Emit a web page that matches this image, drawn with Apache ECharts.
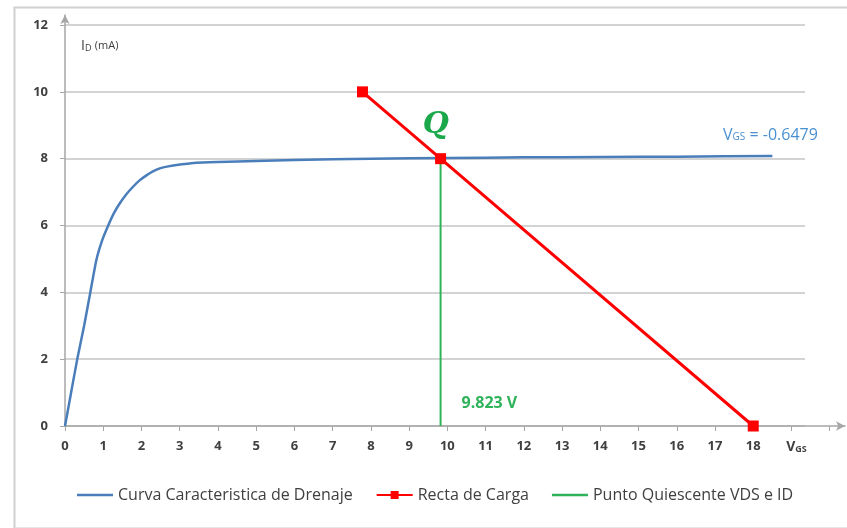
<!DOCTYPE html>
<html>
<head>
<meta charset="utf-8">
<script src="https://cdn.jsdelivr.net/npm/echarts@6/dist/echarts.min.js"></script>
<style>html,body{margin:0;padding:0;background:#fff}#c{width:847px;height:528px}</style>
</head>
<body>
<div id="c"></div>
<script>
// ---- data ----
const curveX = [0, 0.16, 0.32, 0.5, 0.67, 0.82, 0.97, 1.13, 1.28, 1.43, 1.6, 1.78, 1.95, 2.13, 2.3, 2.48, 2.7, 2.92, 3.2, 3.44, 4.0, 5.0, 6.0, 8.0, 10.0, 12.0, 14.0, 16.0, 18.5];
const curveY = [0, 1.0, 2.0, 3.0, 4.05, 4.97, 5.55, 6.0, 6.37, 6.66, 6.93, 7.16, 7.35, 7.5, 7.62, 7.71, 7.77, 7.81, 7.85, 7.88, 7.9, 7.93, 7.96, 8.0, 8.02, 8.04, 8.05, 8.06, 8.08];
const loadX = [7.78, 9.823, 18];
const loadY = [10, 8, 0];
const qX = [9.823, 9.823];
const qY = [0, 8];
const xTickLabels = ['0','1','2','3','4','5','6','7','8','9','10','11','12','13','14','15','16','17','18','VGS',''];
const yTickLabels = ['0','2','4','6','8','10','12'];
const seriesNames = ['Curva Caracteristica de Drenaje', 'Recta de Carga', 'Punto Quiescente VDS e ID'];
const vgsText = 'VGS = -0.6479';
const qText = 'Q';
const vdsText = '9.823 V';

const zip = (xs, ys) => xs.map((x, i) => [x, ys[i]]);
const textColor = '#404040';
const fontFam = "'Open Sans', 'Liberation Sans', sans-serif";
const lineIcon = 'path://M0,0 L40,0 L40,3 L0,3 Z';

const chart = echarts.init(document.getElementById('c'), null, {renderer: 'canvas'});
chart.setOption({
  animation: false,
  backgroundColor: '#fff',
  graphic: [{
    type: 'rect', left: 12, top: 5, z: -10,
    shape: {width: 834, height: 521},
    style: {fill: 'none', stroke: '#d0d0d0', lineWidth: 2}
  }],
  grid: [
    {left: 65, right: 2, top: 15, bottom: 102},
    {left: 65, right: 42, top: 25, bottom: 102}
  ],
  xAxis: [
    {
      gridIndex: 0, type: 'value', min: 0, max: 20.4, interval: 1,
      axisLine: {show: true, lineStyle: {color: '#a6a6a6', width: 1.5}, symbol: ['none', 'arrow'], symbolSize: [7, 9]},
      axisTick: {show: true, length: 5, lineStyle: {color: '#a6a6a6'}},
      splitLine: {show: false},
      axisLabel: {
        show: true, showMaxLabel: false, margin: 14, color: textColor, fontSize: 13, fontWeight: 'bold', fontFamily: fontFam,
        formatter: function (v) {
          const s = xTickLabels[Math.round(v)] || '';
          if (s === 'VGS') return '{v|V}{s|GS}';
          return s;
        },
        rich: {
          v: {fontSize: 14, color: textColor, fontFamily: fontFam, padding: [0, 0, 0, 10]},
          s: {fontSize: 9, color: textColor, fontFamily: fontFam, verticalAlign: 'bottom', padding: [4, 0, 0, 0]}
        }
      }
    },
    {
      gridIndex: 1, type: 'value', min: 0, max: 19.37, show: false,
      splitLine: {show: false}
    }
  ],
  yAxis: [
    {
      gridIndex: 0, type: 'value', min: 0, max: 12.3, interval: 2,
      axisLine: {show: true, lineStyle: {color: '#a6a6a6', width: 1.5}, symbol: ['none', 'arrow'], symbolSize: [7, 9]},
      axisTick: {show: true, length: 5, lineStyle: {color: '#a6a6a6'}},
      splitLine: {show: false},
      axisLabel: {
        show: true, showMaxLabel: false, margin: 17, color: textColor, fontSize: 13, fontWeight: 'bold', fontFamily: fontFam,
        formatter: function (v) { const i = Math.round(v / 2); return yTickLabels[i] !== undefined ? yTickLabels[i] : ''; }
      },
      name: '{v|I}{s|D} {u|(mA)}',
      nameLocation: 'end',
      nameGap: -38,
      nameTextStyle: {
        align: 'left', padding: [0, 0, 0, 16],
        rich: {
          v: {fontSize: 14, color: textColor, fontFamily: fontFam},
          s: {fontSize: 9, color: textColor, fontFamily: fontFam, padding: [4, 0, 0, 0]},
          u: {fontSize: 11, color: textColor, fontFamily: fontFam}
        }
      }
    },
    {
      gridIndex: 1, type: 'value', min: 0, max: 12, interval: 2,
      axisLine: {show: false}, axisTick: {show: false}, axisLabel: {show: false},
      splitLine: {show: true, lineStyle: {color: '#c4c4c4', width: 1.5}}
    }
  ],
  legend: {
    bottom: 20, left: 72, itemWidth: 36, itemHeight: 10, itemGap: 23,
    textStyle: {color: textColor, fontSize: 16, fontFamily: fontFam},
    data: [
      {name: seriesNames[0], icon: lineIcon, itemStyle: {color: '#4a7ebb'}},
      {name: seriesNames[1]},
      {name: seriesNames[2], icon: lineIcon, itemStyle: {color: '#2fb35a'}}
    ]
  },
  series: [
    {
      name: seriesNames[0], type: 'line', xAxisIndex: 0, yAxisIndex: 0,
      data: zip(curveX, curveY), smooth: 0.15, symbol: 'none',
      lineStyle: {color: '#4a7ebb', width: 2.5}, itemStyle: {color: '#4a7ebb'},
      markPoint: {
        symbol: 'circle', symbolSize: 1, itemStyle: {color: 'rgba(0,0,0,0)'},
        data: [{coord: [18.45, 8.7], value: vgsText,
          label: {show: true, formatter: '{v|V}{s|GS}{v| = -0.6479}', position: 'inside',
            rich: {
              v: {fontSize: 16, color: '#4a90d0', fontFamily: fontFam},
              s: {fontSize: 10, color: '#4a90d0', fontFamily: fontFam, padding: [4, 0, 0, 0]}
            }}}]
      }
    },
    {
      name: seriesNames[1], type: 'line', xAxisIndex: 0, yAxisIndex: 0,
      data: zip(loadX, loadY), symbol: 'rect', symbolSize: 11, showSymbol: true,
      lineStyle: {color: '#ff0000', width: 3}, itemStyle: {color: '#ff0000'},
      z: 3
    },
    {
      name: seriesNames[2], type: 'line', xAxisIndex: 0, yAxisIndex: 0,
      data: zip(qX, qY), symbol: 'none',
      lineStyle: {color: '#2fb35a', width: 2}, itemStyle: {color: '#2fb35a'},
      z: 2,
      markPoint: {
        symbol: 'circle', symbolSize: 1, itemStyle: {color: 'rgba(0,0,0,0)'},
        data: [
          {coord: [9.7, 9.0], value: qText,
            label: {show: true, formatter: qText, position: 'inside', color: '#1aa84a',
              fontSize: 30, fontWeight: 'bold', fontStyle: 'italic', fontFamily: "'DejaVu Serif', 'Liberation Serif', serif"}},
          {coord: [11.1, 0.67], value: vdsText,
            label: {show: true, formatter: vdsText, position: 'inside', color: '#2fb35a',
              fontSize: 16, fontWeight: 'bold', fontFamily: fontFam}}
        ]
      }
    }
  ]
});
</script>
</body>
</html>
